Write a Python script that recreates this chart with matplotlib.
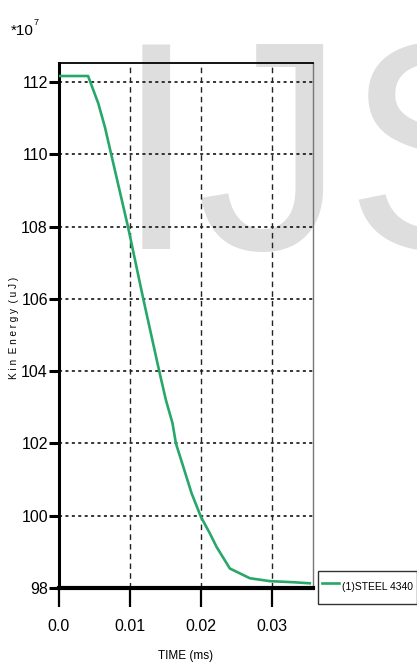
import matplotlib
matplotlib.use('Agg')
import matplotlib.pyplot as plt

# kinetic energy history, values in units of 1e7 uJ
time_ms = [0.0, 0.0041, 0.00554, 0.00648, 0.00742, 0.00972, 0.01188, 0.01413,
           0.01507, 0.0160, 0.01648, 0.01751, 0.01869, 0.0200, 0.02127,
           0.0222, 0.02408, 0.0269, 0.02972, 0.0330, 0.03535]
kin_energy = [112.17, 112.17, 111.41, 110.75, 109.95, 108.0, 106.0, 104.0,
              103.2, 102.56, 102.0, 101.36, 100.62, 99.97, 99.51,
              99.14, 98.54, 98.27, 98.19, 98.16, 98.13]

yticks = [98, 100, 102, 104, 106, 108, 110, 112]
xticks = [0.0, 0.01, 0.02, 0.03]
xtick_labels = ['0.0', '0.01', '0.02', '0.03']
series_label = '(1)STEEL 4340'

FONT = 'Liberation Sans'
GREEN = '#27a86a'

fig = plt.figure(figsize=(4.17, 6.72), dpi=100)

# big grey watermark behind the plot
fig.text(115 / 417, 1 - 249 / 672, 'IJS', fontsize=214, color='#dedede',
         family=FONT, ha='left', va='baseline', zorder=-5)

ax = fig.add_axes([59 / 417, 1 - 588 / 672, 254 / 417, 525 / 672])
ax.set_facecolor('none')

ax.plot(time_ms, kin_energy, color=GREEN, lw=1.9, zorder=3)

ax.set_xlim(0, 0.0358)
ax.set_ylim(98, 112.53)
ax.set_xticks(xticks)
ax.set_xticklabels(xtick_labels)
ax.set_yticks(yticks)

for y in yticks[1:]:
    ax.axhline(y, color='black', lw=1.1, ls=(0, (2, 2.2)), zorder=1)
for x in xticks[1:]:
    ax.axvline(x, color='#222222', lw=1.0, ls=(0, (4, 3)), zorder=1)

ax.spines['left'].set_linewidth(2.2)
ax.spines['bottom'].set_linewidth(3.0)
ax.spines['top'].set_linewidth(1.3)
ax.spines['right'].set_linewidth(1.0)
ax.spines['right'].set_color('#777777')

ax.tick_params(axis='y', direction='out', length=7, width=2.2, pad=1)
ax.tick_params(axis='x', direction='out', length=13.5, width=1.6, pad=9)
for lbl in ax.get_xticklabels() + ax.get_yticklabels():
    lbl.set_family(FONT)
    lbl.set_fontsize(11.5)

ax.set_xlabel('TIME (ms)', family=FONT, fontsize=8.5, labelpad=11)
fig.text(14 / 417, 1 - 328 / 672, 'K i n  E n e r g y  ( u J )', rotation=90,
         family=FONT, fontsize=7.2, ha='center', va='center')

# exponent marker in the top-left corner
fig.text(11 / 417, 1 - 35 / 672, '*10', family=FONT, fontsize=11,
         ha='left', va='baseline')
fig.text(34 / 417, 1 - 25 / 672, '7', family=FONT, fontsize=6.5,
         ha='left', va='baseline')

leg = ax.legend([ax.lines[0]], [series_label], loc='upper left',
                bbox_to_anchor=(318 / 417, 1 - 571 / 672),
                bbox_transform=fig.transFigure, frameon=True, fancybox=False,
                borderpad=0.35, handlelength=1.7, handleheight=3.4,
                handletextpad=0.25, borderaxespad=0,
                prop={'family': FONT, 'size': 7.5})
leg.get_frame().set_edgecolor('black')
leg.get_frame().set_linewidth(1.0)

fig.savefig('out.png', dpi=100)
